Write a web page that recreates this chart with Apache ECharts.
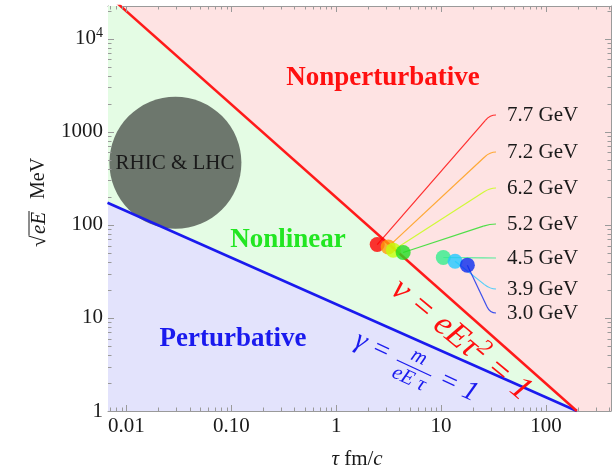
<!DOCTYPE html>
<html>
<head>
<meta charset="utf-8">
<script src="https://cdn.jsdelivr.net/npm/echarts@6/dist/echarts.min.js"></script>
<style>
html, body { margin: 0; padding: 0; background: #ffffff; }
#chart { width: 615px; height: 470px; }
</style>
</head>
<body>
<div id="chart"></div>
<script>
// Regime boundaries: straight lines in log-log space, given by their end points
const nuBoundaryTau = [0.0066, 197];
const nuBoundarySqrtEE = [29900, 1];
const gammaBoundaryTau = [0.0066, 197];
const gammaBoundarySqrtEE = [173, 1];

// Beam energies with their (tau, sqrt(eE)) estimates
const energyLabels = ['7.7 GeV', '7.2 GeV', '6.2 GeV', '5.2 GeV', '4.5 GeV', '3.9 GeV', '3.0 GeV'];
const energyTau = [2.46, 3.13, 3.50, 4.35, 10.5, 13.6, 17.8];
const energySqrtEE = [61.5, 58.0, 53.5, 50.5, 44.6, 40.7, 36.9];

// RHIC & LHC domain
const colliderTau = [0.0293];
const colliderSqrtEE = [465];

// Axis ticks
const xMajor = [0.01, 0.1, 1, 10, 100];
const xMajorLabels = ['0.01', '0.10', '1', '10', '100'];
const yMajor = [1, 10, 100, 1000, 10000];
const yMajorLabels = ['1', '10', '100', '1000', '{b|10}{s|4}'];

const X_MIN = 0.00667, X_MAX = 417, Y_MIN = 1, Y_MAX = 22500;

// styling
const energyColors = ['#ff0000', '#ff9a0a', '#c4ff0a', '#22dd22', '#33ee8c', '#22c8ff', '#0a2aee'];
const labelRowY = [115, 152, 188, 224, 258, 289, 313];
const SERIF = '"Liberation Serif", "Times New Roman", serif';
const FRAME = '#9a9a9a';
const TEXT = '#1a1a1a';

function minorTicks(lo, hi) {
  const out = [];
  for (let d = Math.floor(Math.log10(lo)); d <= Math.ceil(Math.log10(hi)); d++) {
    for (let k = 2; k <= 9; k++) {
      const v = k * Math.pow(10, d);
      if (v > lo && v < hi) out.push(+v.toPrecision(6));
    }
  }
  return out;
}
const xMinor = minorTicks(X_MIN, X_MAX);
const yMinor = minorTicks(Y_MIN, Y_MAX);

function labelFor(values, labels) {
  return function (v) {
    const i = values.findIndex(t => Math.abs(Math.log10(t) - Math.log10(v)) < 1e-6);
    return i >= 0 ? labels[i] : '';
  };
}

function logAxis(dim, position, withLabels) {
  const ax = {
    type: 'log', logBase: 10, gridIndex: 0, position: position,
    min: dim === 'x' ? X_MIN : Y_MIN,
    max: dim === 'x' ? X_MAX : Y_MAX,
    axisLine: { show: true, onZero: false, lineStyle: { color: FRAME, width: 1 } },
    splitLine: { show: false },
    minorTick: { show: false },
    axisTick: { show: false },
    axisLabel: { show: false }
  };
  if (withLabels) {
    const vals = dim === 'x' ? xMajor : yMajor;
    ax.axisLabel = {
      show: true,
      customValues: vals,
      formatter: dim === 'x' ? labelFor(xMajor, xMajorLabels) : labelFor(yMajor, yMajorLabels),
      fontFamily: SERIF, fontSize: 21, color: TEXT,
      margin: 5,
      rich: {
        b: { fontFamily: SERIF, fontSize: 21, color: TEXT, lineHeight: 24 },
        s: { fontFamily: SERIF, fontSize: 14, color: TEXT, verticalAlign: 'top', lineHeight: 14 }
      }
    };
  }
  return ax;
}

const chart = echarts.init(document.getElementById('chart'), null, { renderer: 'canvas' });

const pairs = (xs, ys) => xs.map((x, i) => [x, ys[i]]);

chart.setOption({
  animation: false,
  backgroundColor: '#ffffff',
  grid: { left: 108, top: 6, width: 503, height: 405, show: true, backgroundColor: '#fee3e3', borderWidth: 0 },
  xAxis: [logAxis('x', 'bottom', true), logAxis('x', 'top', false)],
  yAxis: [logAxis('y', 'left', true), logAxis('y', 'right', false)],
  series: [
    { // nonlinear band: below the nu = 1 line
      type: 'line', xAxisIndex: 0, yAxisIndex: 0, z: 1, silent: true,
      data: pairs(nuBoundaryTau, nuBoundarySqrtEE), symbol: 'none',
      lineStyle: { width: 0, opacity: 0 },
      areaStyle: { color: '#e4fce4', opacity: 1, origin: 'start' }
    },
    { // perturbative band: below the gamma = 1 line
      type: 'line', xAxisIndex: 0, yAxisIndex: 0, z: 1, silent: true,
      data: pairs(gammaBoundaryTau, gammaBoundarySqrtEE), symbol: 'none',
      lineStyle: { width: 0, opacity: 0 },
      areaStyle: { color: '#e3e3fc', opacity: 1, origin: 'start' }
    },
    { // RHIC & LHC
      type: 'scatter', xAxisIndex: 0, yAxisIndex: 0, z: 2, silent: true,
      data: pairs(colliderTau, colliderSqrtEE), symbolSize: 132,
      itemStyle: { color: '#6d776d', opacity: 1 }
    },
    {
      type: 'line', xAxisIndex: 0, yAxisIndex: 0, z: 3, silent: true,
      data: pairs(gammaBoundaryTau, gammaBoundarySqrtEE), symbol: 'none',
      lineStyle: { color: '#1a1aee', width: 2.5 }
    },
    {
      type: 'line', xAxisIndex: 0, yAxisIndex: 0, z: 3, silent: true,
      data: pairs(nuBoundaryTau, nuBoundarySqrtEE), symbol: 'none',
      lineStyle: { color: '#ff1a1a', width: 2.5 }
    },
    {
      type: 'scatter', xAxisIndex: 0, yAxisIndex: 0, z: 5, silent: true,
      symbolSize: 15,
      data: energyTau.map((t, i) => ({ value: [t, energySqrtEE[i]], itemStyle: { color: energyColors[i] } }))
    }
  ]
});

const gfx = [];

// frame ticks on all four sides, placed through the axes' scales
const yBottom = chart.convertToPixel({ yAxisIndex: 0 }, Y_MIN);
const yTop = chart.convertToPixel({ yAxisIndex: 0 }, Y_MAX);
const xLeft = chart.convertToPixel({ xAxisIndex: 0 }, X_MIN);
const xRight = chart.convertToPixel({ xAxisIndex: 0 }, X_MAX);
function tickLine(x1, y1, x2, y2) {
  gfx.push({ type: 'line', z: 6, silent: true, shape: { x1: x1, y1: y1, x2: x2, y2: y2 },
             style: { stroke: FRAME, lineWidth: 1 } });
}
[[xMajor, 6], [xMinor, 3.5]].forEach(([vals, len]) => vals.forEach(v => {
  const px = Math.round(chart.convertToPixel({ xAxisIndex: 0 }, v)) + 0.5;
  tickLine(px, yBottom, px, yBottom - len);
  tickLine(px, yTop, px, yTop + len);
}));
[[yMajor, 6], [yMinor, 3.5]].forEach(([vals, len]) => vals.forEach(v => {
  const py = Math.round(chart.convertToPixel({ yAxisIndex: 0 }, v)) + 0.5;
  tickLine(xLeft, py, xLeft + len, py);
  tickLine(xRight, py, xRight - len, py);
}));

// energy labels with leader lines
const LABEL_X = 507, END_X = 496, BEND_X = 490;
energyTau.forEach((t, i) => {
  const p = chart.convertToPixel({ seriesIndex: 5 }, [t, energySqrtEE[i]]);
  const ly = labelRowY[i];
  const dx = BEND_X - p[0], dy = ly - p[1];
  const d = Math.sqrt(dx * dx + dy * dy) || 1;
  const k = [BEND_X - 7 * dx / d, ly - 7 * dy / d];
  const col = energyColors[i];
  gfx.push({ type: 'line', z: 4, silent: true, shape: { x1: p[0], y1: p[1], x2: k[0], y2: k[1] },
             style: { stroke: col, lineWidth: 1.2, opacity: 0.8 } });
  gfx.push({ type: 'bezierCurve', z: 4, silent: true,
             shape: { x1: k[0], y1: k[1], x2: END_X, y2: ly, cpx1: BEND_X, cpy1: ly },
             style: { stroke: col, lineWidth: 1.2, opacity: 0.8, fill: null } });
  gfx.push({ type: 'text', z: 10, silent: true, x: LABEL_X, y: ly,
             style: { text: energyLabels[i], font: '21px ' + SERIF, fill: TEXT,
                      align: 'left', verticalAlign: 'middle', textAlign: 'left', textVerticalAlign: 'middle' } });
});

function label(text, x, y, size, color, weight, style) {
  return { type: 'text', z: 10, silent: true, x: x, y: y,
           style: { text: text, fontFamily: SERIF, fontSize: size, fontWeight: weight || 'normal',
                    fontStyle: style || 'normal', fill: color,
                    align: 'center', verticalAlign: 'middle', textAlign: 'center', textVerticalAlign: 'middle' } };
}

gfx.push(label('Nonperturbative', 383, 78, 27, '#ff1010', 'bold'));
gfx.push(label('Nonlinear', 288, 240, 27, '#22e622', 'bold'));
gfx.push(label('Perturbative', 233, 339, 27, '#1a1aee', 'bold'));
gfx.push(label('RHIC & LHC', 175, 163, 21, TEXT));

// nu = eE tau^2 = 1
gfx.push({
  type: 'text', z: 10, silent: true, x: 461, y: 340, rotation: -39.6 * Math.PI / 180,
  style: {
    text: '{a|ν = eEτ}{s|2}{a| = 1}',
    align: 'center', verticalAlign: 'middle', textAlign: 'center', textVerticalAlign: 'middle',
    rich: {
      a: { fontFamily: SERIF, fontSize: 34, fontStyle: 'italic', fill: '#ff1010', lineHeight: 40 },
      s: { fontFamily: SERIF, fontSize: 23, fontStyle: 'italic', fill: '#ff1010', verticalAlign: 'top', lineHeight: 24 }
    }
  }
});

// gamma = m / (eE tau) = 1
const blue = '#1a1aee';
gfx.push({
  type: 'group', x: 414, y: 368, rotation: -25 * Math.PI / 180, silent: true,
  children: [
    { type: 'text', z: 10, x: -28, y: -2,
      style: { text: 'γ =', fontFamily: SERIF, fontSize: 28, fontStyle: 'italic', fill: blue,
               align: 'right', verticalAlign: 'middle', textAlign: 'right', textVerticalAlign: 'middle' } },
    { type: 'line', z: 10, shape: { x1: -19, y1: 0, x2: 19, y2: 0 }, style: { stroke: blue, lineWidth: 1.3 } },
    { type: 'text', z: 10, x: 0, y: -12,
      style: { text: 'm', fontFamily: SERIF, fontSize: 21, fontStyle: 'italic', fill: blue,
               align: 'center', verticalAlign: 'middle', textAlign: 'center', textVerticalAlign: 'middle' } },
    { type: 'text', z: 10, x: 0, y: 12,
      style: { text: 'eE τ', fontFamily: SERIF, fontSize: 21, fontStyle: 'italic', fill: blue,
               align: 'center', verticalAlign: 'middle', textAlign: 'center', textVerticalAlign: 'middle' } },
    { type: 'text', z: 10, x: 28, y: -2,
      style: { text: '= 1', fontFamily: SERIF, fontSize: 28, fontStyle: 'italic', fill: blue,
               align: 'left', verticalAlign: 'middle', textAlign: 'left', textVerticalAlign: 'middle' } }
  ]
});

// axis titles
gfx.push({
  type: 'text', z: 10, silent: true, x: 357, y: 459,
  style: {
    text: '{i|τ} fm/{i|c}', fontFamily: SERIF, fontSize: 21, fill: TEXT,
    align: 'center', verticalAlign: 'middle', textAlign: 'center', textVerticalAlign: 'middle',
    rich: { i: { fontFamily: SERIF, fontSize: 21, fontStyle: 'italic', fill: TEXT } }
  }
});
gfx.push({
  type: 'group', x: 39, y: 202, rotation: Math.PI / 2, silent: true,
  children: [
    { type: 'text', z: 10, x: -45, y: 0,
      style: { text: '√', fontFamily: SERIF, fontSize: 21, fill: TEXT,
               align: 'left', verticalAlign: 'middle', textAlign: 'left', textVerticalAlign: 'middle' } },
    { type: 'line', z: 10, shape: { x1: -33.5, y1: -10, x2: -9, y2: -10 }, style: { stroke: TEXT, lineWidth: 1 } },
    { type: 'text', z: 10, x: -32, y: 0,
      style: { text: 'eE', fontFamily: SERIF, fontSize: 21, fontStyle: 'italic', fill: TEXT,
               align: 'left', verticalAlign: 'middle', textAlign: 'left', textVerticalAlign: 'middle' } },
    { type: 'text', z: 10, x: 3, y: 0,
      style: { text: 'MeV', fontFamily: SERIF, fontSize: 20, fill: TEXT,
               align: 'left', verticalAlign: 'middle', textAlign: 'left', textVerticalAlign: 'middle' } }
  ]
});

chart.setOption({ graphic: { elements: gfx } });
</script>
</body>
</html>
